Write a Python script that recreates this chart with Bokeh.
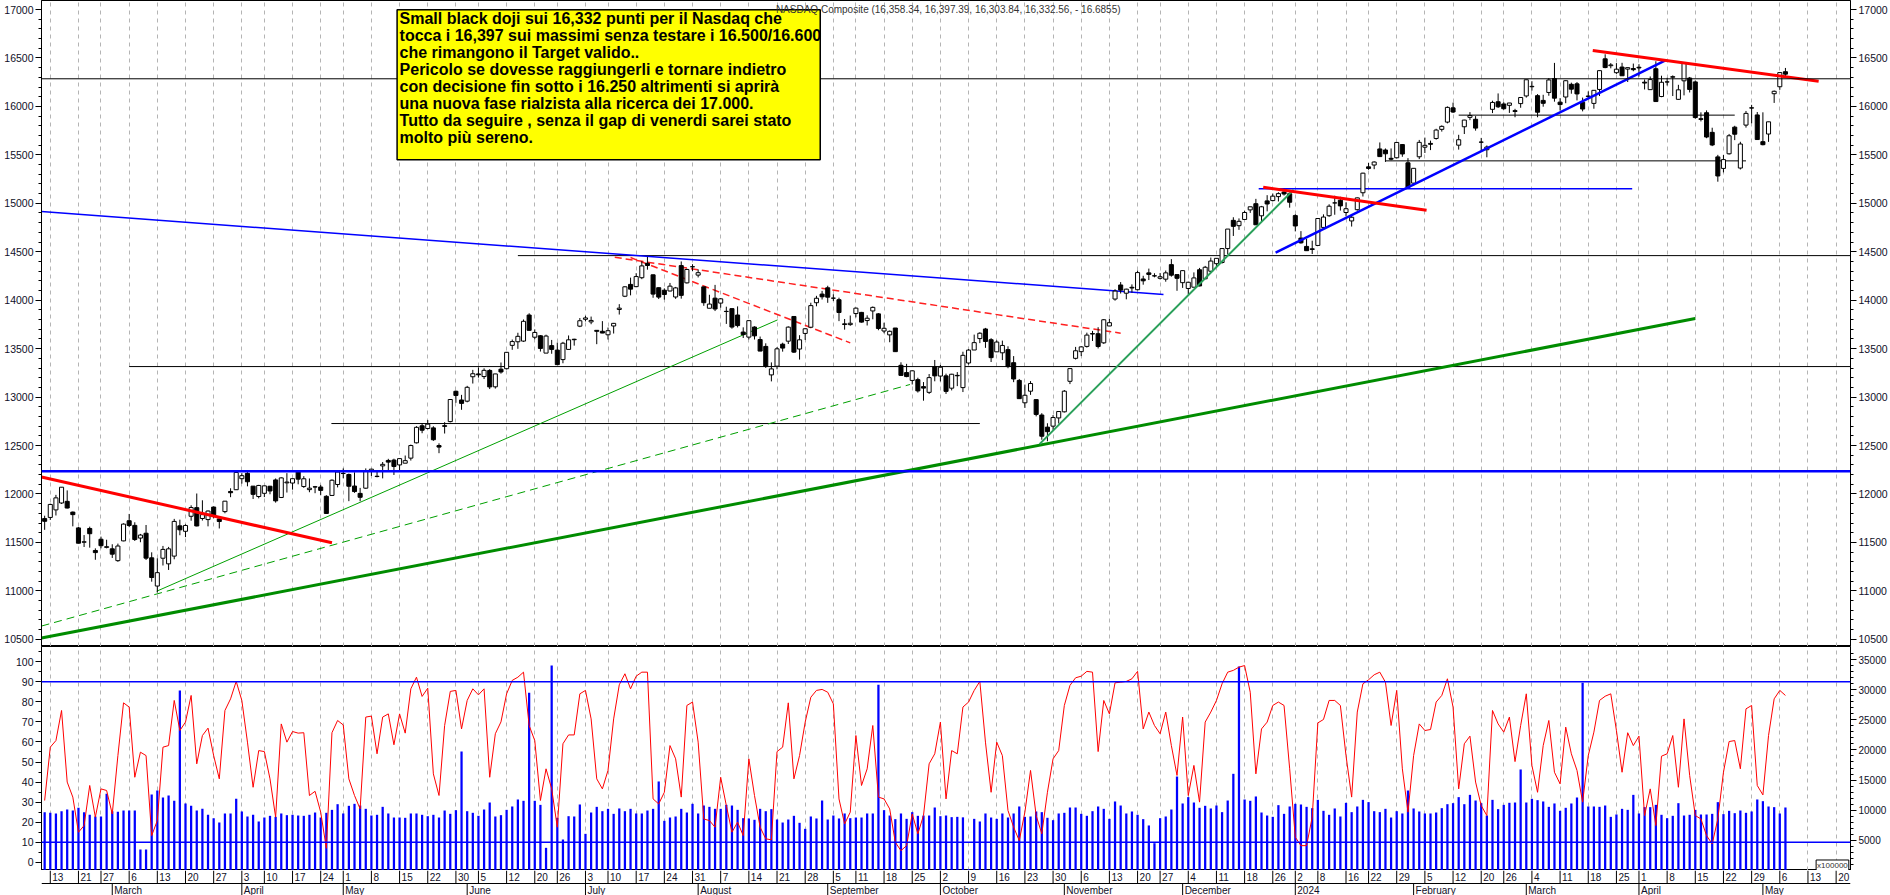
import pandas as pd
from bokeh.plotting import figure
from bokeh.layouts import column
from bokeh.models import (Range1d, LinearAxis, FixedTicker, Grid, Span, BoxAnnotation,
                          Label, ColumnDataSource)
from bokeh.embed import file_html
from bokeh.resources import INLINE
from bokeh.core.properties import value

# ------------------------------------------------------------------ data
holidays = ["2023-02-20", "2023-04-07", "2023-05-29", "2023-06-19", "2023-07-04",
            "2023-09-04", "2023-11-23", "2023-12-25", "2024-01-01", "2024-01-15",
            "2024-02-19", "2024-03-29"]
missing_days = ["2023-04-26"]          # day absent from the chart's data feed

opens = [
    11746, 11758, 11836, 11907, 11924, 11813, 11650, 11502, 11644, 11417, 11533, 11449,
    11434, 11312, 11516, 11724, 11676, 11545, 11595, 11341, 11050, 11337, 11279, 11359, 11671, 11615, 11770, 11859, 11747, 11736, 11865, 11743, 11818, 12026, 12044,
    12158, 12213, 12081, 11974, 12007, 12080, 12145, 11964, 12115, 12113, 12233, 12077, 12045, 12074, 12072, 11976, 11985, 12098,
    12211, 12201, 12082, 12006, 12060, 12240, 12183, 12290, 12346, 12350, 12300, 12318, 12370, 12528, 12704, 12676, 12682, 12500, 12705, 12747, 13060, 12970,
    12958, 13210, 13239, 13212, 13275, 13106, 13288, 13293, 13534, 13571, 13578, 13847, 13618, 13633, 13454, 13531, 13485, 13387, 13492, 13597, 13732,
    13803, 13776, 13689, 13679, 13643, 13734, 13904, 14041, 14163, 14140, 14232, 14381, 14262, 14129, 14103, 14095, 14033, 14357, 14179, 14344,
    14259, 14138, 13917, 14021, 13970, 13883, 13913, 13847, 13671, 13619, 13723, 13594, 13523, 13229, 13319, 13546, 13577, 13832, 13496, 13657, 13721, 13974, 14063,
    14128, 14021, 14005, 13756, 13748, 13862, 13874, 13790, 13889, 13859, 13682, 13642, 13713, 13328, 13253, 13172, 13180, 13108, 13049, 13313,
    13217, 13219, 13092, 13224, 13098, 13352, 13486, 13604, 13703, 13592, 13467, 13457, 13490, 13355, 13172, 12941, 13061, 12974, 12815, 12690, 12700, 12785,
    12848, 13163, 13400, 13469, 13523, 13655, 13654, 13560, 13734, 14012, 14157, 14072, 14133, 14108, 14219, 14282, 14252, 14226, 14217, 14367, 14264,
    14181, 14121, 14134, 14314, 14221, 14299, 14377, 14389, 14533, 14824, 14769, 14833, 14932, 14996, 14871, 15025, 15028, 15069, 15116, 15099,
    14873, 14641, 14555, 14530, 14565, 14751, 14872, 15004, 15032, 14905, 14818, 14934, 15109, 15376, 15395, 15561, 15550, 15464, 15470, 15606, 15418,
    15208, 15480, 15579, 15618, 15669, 15763, 15838, 15985, 15600, 15790, 15887, 15867, 15632, 15553, 15970, 16048, 16025, 16011, 15956, 16029,
    16108, 16203, 16111, 16062, 16144, 16287, 16044, 16097, 16228, 16233, 16044, 16107, 16031, 16175, 16491, 16420, 16348, 16406, 16385, 16391,
    16404, 16250, 16173, 16389, 16102, 16252, 16301, 16073, 16264, 16293, 16253, 15873, 15935, 15732, 15479, 15360, 15511, 15786, 15364, 15807, 15985, 15912,
    15636, 15715, 16131, 16203, 16358]
highs = [
    11776, 11900, 11991, 12070, 12037, 11819, 11660, 11576, 11663, 11439, 11560, 11528,
    11481, 11488, 11697, 11794, 11708, 11588, 11680, 11398, 11336, 11464, 11454, 11743, 11735, 11687, 11883, 12005, 11935, 11830, 11872, 11753, 11926, 12059, 12227,
    12215, 12226, 12082, 12094, 12085, 12084, 12160, 12172, 12215, 12160, 12243, 12184, 12160, 12083, 12094, 11988, 12151, 12229,
    12264, 12211, 12224, 12063, 12264, 12260, 12236, 12330, 12363, 12364, 12370, 12397, 12510, 12700, 12731, 12763, 12699, 12523, 12741, 12979, 13067, 13023,
    13116, 13281, 13307, 13297, 13288, 13240, 13357, 13466, 13594, 13664, 13801, 13865, 13699, 13640, 13644, 13590, 13562, 13570, 13636, 13602, 13816,
    13839, 13831, 13691, 13784, 13718, 13765, 13959, 14144, 14233, 14279, 14402, 14447, 14264, 14130, 14122, 14178, 14137, 14400, 14325, 14371,
    14318, 14139, 14056, 14158, 14022, 13933, 13914, 13936, 13720, 13793, 13731, 13625, 13555, 13358, 13516, 13561, 13730, 13834, 13639, 13710, 13974, 14045, 14096,
    14149, 14061, 14026, 13806, 13842, 13924, 13879, 13844, 13935, 13867, 13768, 13687, 13713, 13359, 13343, 13275, 13200, 13155, 13238, 13383,
    13332, 13242, 13240, 13258, 13468, 13496, 13645, 13669, 13714, 13608, 13586, 13583, 13524, 13423, 13187, 13129, 13165, 12975, 12834, 12730, 12814, 12852,
    13073, 13298, 13518, 13525, 13665, 13683, 13721, 13805, 13808, 14113, 14187, 14118, 14163, 14305, 14252, 14326, 14278, 14281, 14306, 14424, 14265,
    14309, 14191, 14287, 14333, 14354, 14440, 14435, 14537, 14734, 14856, 14844, 14923, 14965, 15046, 14973, 15084, 15101, 15114, 15150, 15111,
    14887, 14713, 14633, 14614, 14847, 14886, 14990, 15078, 15067, 15010, 14871, 15059, 15315, 15417, 15433, 15628, 15566, 15566, 15629, 15612, 15466,
    15362, 15654, 15678, 15647, 15769, 15804, 16000, 16039, 15707, 15862, 15941, 15900, 15675, 15597, 16059, 16134, 16043, 16036, 15975, 16093,
    16275, 16260, 16127, 16120, 16293, 16449, 16085, 16270, 16245, 16251, 16091, 16155, 16169, 16370, 16538, 16447, 16447, 16450, 16400, 16442,
    16436, 16278, 16309, 16466, 16317, 16295, 16320, 16223, 16453, 16304, 16268, 15939, 15959, 15780, 15500, 15498, 15716, 15800, 15635, 15953, 16016, 15942,
    15939, 15842, 16164, 16349, 16397]
lows = [
    11630, 11732, 11778, 11897, 11851, 11666, 11490, 11453, 11446, 11321, 11439, 11439,
    11340, 11300, 11512, 11658, 11515, 11502, 11319, 11095, 10982, 11262, 11216, 11326, 11574, 11555, 11724, 11666, 11726, 11666, 11749, 11644, 11801, 11967, 12041,
    12107, 12079, 11948, 11955, 11968, 11997, 11911, 11958, 12015, 12045, 12100, 12063, 12018, 12008, 11987, 11798, 11985, 12068,
    12162, 11926, 12012, 11925, 12053, 12186, 12172, 12161, 12242, 12196, 12246, 12318, 12345, 12522, 12627, 12667, 12548, 12421, 12624, 12739, 12941, 12869,
    12946, 13140, 13201, 13186, 13083, 13088, 13242, 13285, 13488, 13498, 13570, 13688, 13597, 13470, 13454, 13447, 13335, 13349, 13491, 13531, 13722,
    13781, 13752, 13546, 13660, 13594, 13656, 13852, 14032, 14050, 14134, 14217, 14315, 14025, 14012, 14006, 14091, 14014, 14016, 14172, 14299,
    14235, 13942, 13918, 13888, 13923, 13755, 13706, 13719, 13610, 13595, 13594, 13474, 13301, 13162, 13287, 13469, 13548, 13456, 13387, 13590, 13714, 13937, 14007,
    13973, 13992, 13784, 13696, 13736, 13823, 13769, 13739, 13803, 13690, 13659, 13566, 13467, 13221, 13205, 13130, 13047, 12963, 13033, 13163,
    13162, 13033, 13069, 13113, 13052, 13335, 13486, 13557, 13508, 13362, 13467, 13382, 13298, 13154, 12981, 12888, 13023, 12801, 12560, 12544, 12662, 12727,
    12841, 13134, 13388, 13423, 13511, 13579, 13502, 13549, 13734, 13995, 14069, 14009, 14078, 14101, 14160, 14208, 14236, 14213, 14191, 14243, 14097,
    14127, 14059, 14134, 14143, 14217, 14282, 14340, 14378, 14472, 14663, 14726, 14833, 14901, 14777, 14813, 14917, 15020, 15019, 15080, 14955,
    14710, 14584, 14510, 14477, 14565, 14740, 14860, 14882, 14925, 14866, 14760, 14924, 15070, 15346, 15352, 15482, 15427, 15444, 15463, 15480, 15163,
    15181, 15456, 15519, 15549, 15657, 15740, 15825, 15932, 15554, 15715, 15858, 15750, 15542, 15475, 15931, 15984, 15966, 15933, 15888, 15986,
    16091, 16163, 15888, 15997, 16110, 16049, 15957, 16033, 16131, 16062, 15949, 16085, 15976, 16107, 16394, 16393, 16335, 16315, 16252, 16363,
    16308, 16175, 16170, 16048, 16095, 16216, 16107, 16070, 16114, 16144, 15873, 15845, 15672, 15590, 15223, 15319, 15503, 15652, 15349, 15781, 15826, 15657,
    15598, 15634, 16036, 16171, 16304]
closes = [
    11718, 11892, 11960, 12070, 11855, 11787, 11492, 11507, 11590, 11395, 11466, 11456,
    11379, 11463, 11689, 11675, 11530, 11576, 11338, 11138, 11188, 11428, 11434, 11717, 11630, 11675, 11860, 11670, 11787, 11824, 11768, 11716, 11926, 12013, 12222,
    12189, 12126, 11996, 12088, 12084, 12031, 11929, 12166, 12123, 12158, 12153, 12157, 12060, 12072, 12037, 11799, 12142, 12227,
    12213, 12080, 12025, 11966, 12235, 12256, 12180, 12306, 12329, 12284, 12365, 12344, 12500, 12688, 12658, 12721, 12560, 12484, 12698, 12975, 13017, 12935,
    13101, 13241, 13230, 13276, 13105, 13239, 13259, 13462, 13573, 13627, 13782, 13689, 13667, 13502, 13630, 13492, 13335, 13556, 13591, 13592, 13788,
    13817, 13791, 13679, 13661, 13685, 13761, 13918, 14138, 14114, 14244, 14354, 14358, 14063, 14032, 14059, 14145, 14127, 14050, 14317, 14346,
    14284, 13974, 13960, 13909, 14014, 13885, 13723, 13738, 13645, 13789, 13632, 13475, 13317, 13291, 13498, 13506, 13722, 13464, 13591, 13705, 13944, 14020, 14035,
    14031, 14021, 13873, 13749, 13762, 13918, 13774, 13814, 13926, 13708, 13710, 13679, 13469, 13224, 13212, 13271, 13064, 13093, 13201, 13219,
    13308, 13059, 13236, 13220, 13431, 13485, 13562, 13659, 13574, 13407, 13568, 13533, 13315, 13187, 12984, 13019, 13140, 12821, 12596, 12643, 12789, 12851,
    13061, 13294, 13478, 13518, 13640, 13651, 13522, 13798, 13768, 14094, 14104, 14114, 14126, 14285, 14200, 14266, 14250, 14242, 14282, 14258, 14226,
    14305, 14185, 14230, 14147, 14340, 14404, 14432, 14533, 14734, 14762, 14814, 14905, 14964, 14778, 14964, 14993, 15074, 15100, 15096, 15011,
    14766, 14592, 14511, 14524, 14843, 14858, 14970, 15004, 14973, 14944, 14856, 15056, 15311, 15360, 15426, 15482, 15511, 15455, 15628, 15509, 15164,
    15361, 15629, 15598, 15609, 15756, 15794, 15990, 15942, 15656, 15859, 15906, 15776, 15631, 15581, 16041, 15996, 15976, 16035, 15948, 16092,
    16275, 16207, 15940, 16032, 16273, 16085, 16019, 16265, 16178, 16129, 15973, 16103, 16166, 16369, 16401, 16428, 16384, 16316, 16400, 16379,
    16397, 16241, 16277, 16050, 16249, 16253, 16307, 16171, 16443, 16175, 15885, 15866, 15684, 15602, 15282, 15451, 15697, 15713, 15612, 15928, 15983, 15658,
    15605, 15841, 16156, 16349, 16333]

volumes = [
    9680, 9570, 9460, 9840, 10120, 9950, 10400, 9680, 9240, 8960,
    8960, 12720, 9840, 9730, 9950, 9950, 9950, 3480, 3480, 12610,
    13270, 12110, 12440, 11560, 29860, 11120, 10730, 9950, 10230, 9240,
    8680, 7960, 9460, 9460, 11890, 9790, 8960, 9240, 8130, 8790,
    9070, 8900, 9460, 9180, 9240, 9120, 9070, 9240, 9620, 8790,
    9570, 10060, 11000, 9460, 10730, 11060, 10780, 10230, 9120, 9240,
    10560, 9460, 8790, 8790, 8740, 9460, 9460, 9240, 9010, 9240,
    8790, 9950, 9400, 10010, 19740, 9840, 9570, 9070, 10120, 11280,
    8960, 9180, 10060, 10620, 11780, 11560, 29470, 11560, 10890, 3760,
    34010, 8740, 5140, 9010, 8960, 10950, 6080, 9620, 10560, 9840,
    10230, 9400, 10290, 9840, 10230, 9460, 9460, 9950, 10230, 14770,
    8240, 8790, 8960, 10230, 9620, 11060, 9460, 10780, 10560, 10230,
    10230, 10890, 10780, 10060, 8680, 8630, 8410, 10230, 9840, 10180,
    8460, 7960, 8460, 9070, 7910, 6910, 8960, 8630, 11610, 8460,
    9120, 8630, 9460, 8680, 8790, 8790, 9460, 9460, 30800, 10010,
    9120, 8520, 9460, 8570, 9680, 9070, 9120, 9120, 10450, 9010,
    9120, 8850, 8900, 8820, 220, 8570, 8130, 9460, 8790, 8570,
    9460, 8790, 9460, 10620, 8900, 8960, 9790, 9680, 8740, 8350,
    9460, 9570, 10450, 10450, 9400, 9070, 9840, 10620, 10230, 8570,
    11450, 10780, 9460, 9790, 9240, 8520, 7470, 4530, 8680, 8960,
    10120, 15590, 11120, 12170, 11280, 10400, 10730, 10290, 10780, 9680,
    11610, 16040, 33840, 11780, 11560, 12280, 9620, 9120, 8900, 10840,
    9400, 10620, 11060, 10950, 10560, 10340, 11720, 9900, 9240, 10290,
    8960, 11230, 9680, 10620, 11720, 11340, 9840, 9680, 10230, 8790,
    9840, 9460, 13270, 10290, 9790, 9460, 9460, 9620, 10340, 11000,
    11170, 12170, 11000, 12550, 11610, 11170, 9120, 11720, 10180, 10890,
    11230, 11280, 16760, 11280, 11890, 11670, 11450, 10560, 11120, 9900,
    10400, 11120, 12110, 31130, 10620, 10620, 10560, 10780, 8900, 9290,
    10230, 10060, 12550, 9460, 10510, 10510, 10890, 9240, 8680, 9070,
    11170, 9120, 9240, 10060, 9290, 9290, 9400, 11340, 9350, 9900,
    9510, 9950, 9570, 9790, 11780, 11500, 10620, 10510, 9460, 10450]

stoch = [
    30.8, 57.4, 60.7, 75.7, 40.0, 32.5, 15.0, 18.3, 38.3, 22.5,
    36.6, 35.8, 24.1, 53.2, 79.5, 77.4, 42.4, 54.9, 53.2, 13.3,
    20.8, 57.4, 58.2, 80.7, 65.7, 69.9, 83.2, 49.1, 63.2, 66.9,
    53.2, 41.6, 75.7, 81.5, 90.2, 80.7, 59.9, 37.4, 55.7, 55.2,
    41.6, 22.5, 69.0, 59.9, 65.2, 64.4, 64.6, 33.3, 35.4, 25.0,
    7.0, 64.6, 70.7, 68.5, 41.6, 33.3, 26.6, 72.4, 72.9, 54.1,
    72.4, 74.0, 58.6, 74.0, 64.4, 86.5, 92.3, 82.7, 86.8, 44.1,
    33.3, 68.2, 85.2, 85.7, 66.5, 80.7, 86.5, 83.5, 86.5, 42.4,
    64.1, 70.0, 84.0, 90.7, 92.3, 94.8, 68.2, 60.7, 30.8, 46.6,
    36.6, 17.5, 59.1, 63.5, 63.5, 84.0, 85.7, 71.5, 41.6, 36.6,
    45.8, 71.5, 88.5, 94.0, 86.5, 92.8, 94.8, 94.8, 31.6, 29.1,
    34.9, 58.2, 51.6, 32.5, 78.2, 79.9, 59.9, 21.6, 20.8, 17.5,
    42.4, 28.3, 15.0, 20.0, 13.3, 51.6, 33.3, 17.5, 11.7, 11.2,
    55.2, 57.4, 79.5, 41.6, 53.2, 69.9, 82.3, 85.7, 86.2, 84.8,
    79.0, 31.6, 19.1, 25.0, 63.2, 38.3, 46.6, 68.2, 32.5, 31.6,
    26.6, 10.0, 5.8, 8.3, 24.1, 14.2, 23.3, 49.1, 54.1, 69.9,
    31.6, 55.7, 54.1, 77.4, 79.9, 85.7, 90.2, 59.9, 34.9, 59.9,
    53.2, 25.8, 17.5, 10.8, 25.0, 45.8, 23.3, 14.2, 34.9, 51.6,
    55.7, 78.2, 88.2, 92.0, 92.8, 95.2, 94.8, 55.2, 80.7, 74.0,
    89.5, 89.8, 90.2, 91.5, 95.2, 66.5, 74.9, 68.2, 64.1, 74.9,
    58.2, 43.3, 72.4, 33.3, 48.3, 30.0, 69.9, 74.9, 80.7, 89.0,
    94.8, 95.7, 97.3, 98.1, 84.8, 44.1, 66.5, 69.9, 78.2, 79.9,
    78.2, 46.6, 12.5, 8.3, 8.3, 22.5, 69.5, 71.2, 80.7, 80.7,
    78.2, 53.2, 32.5, 74.9, 89.0, 91.0, 93.5, 94.8, 89.8, 68.2,
    85.7, 46.6, 25.0, 53.2, 69.0, 65.7, 66.2, 79.9, 83.2, 91.5,
    77.4, 36.6, 59.1, 62.9, 40.0, 28.3, 23.3, 75.7, 69.0, 64.9,
    72.4, 50.2, 68.2, 84.0, 48.3, 34.9, 58.2, 70.7, 44.9, 39.1,
    67.4, 54.1, 45.8, 30.0, 53.2, 64.9, 80.7, 82.8, 84.0, 65.7,
    44.9, 64.6, 58.2, 62.9, 23.3, 36.6, 18.3, 52.9, 54.1, 63.2,
    37.4, 71.5, 43.3, 23.3, 21.6, 13.3, 9.2, 21.6, 44.9, 60.2,
    60.7, 46.6, 76.5, 78.2, 38.3, 33.6, 63.2, 81.5, 85.7, 83.2]

month_names = {1: "2024", 2: "February", 3: "March", 4: "April", 5: "May", 6: "June",
               7: "July", 8: "August", 9: "September", 10: "October", 11: "November",
               12: "December"}

# horizontal levels and trend lines (slot, price)
hlines_full = [16285]
hline_blue = 12235
black_segments = [(83, 14460, 319.6, 14460), (14, 13315, 319.6, 13315),
                  (49.9, 12727, 165, 12727), (250, 15910, 299, 15910),
                  (237, 15438, 301, 15438)]
blue_thin = [(214.5, 15150, 280.8, 15150), (-1.56, 14915, 197.6, 14059)]
blue_thick = [(217.5, 14492, 286.7, 16474)]
red_thick = [(-1.56, 12176, 50, 11496), (215.3, 15165, 244.3, 14929),
             (273.8, 16577, 313.9, 16260)]
red_dashed = [(100.2, 14443, 190, 13660), (103, 14440, 142, 13560)]
green_thin = [(18.9, 10997, 129.1, 13797)]
green_dashed = [(-1.56, 10637, 152.6, 13130)]
green_thick = [(-1.56, 10513, 292, 13811)]
green_teal = [(175.6, 12515, 220.7, 15140)]

note_lines = [
    "Small black doji sui 16,332 punti per il Nasdaq che",
    "tocca i 16,397 sui massimi senza testare i 16.500/16.600",
    "che rimangono il Target valido..",
    "Pericolo se dovesse raggiungerli e tornare indietro",
    "con decisione fin sotto i 16.250 altrimenti si aprirà",
    "una nuova fase rialzista alla ricerca dei 17.000.",
    "Tutto da seguire , senza il gap di venerdi sarei stato",
    "molto più sereno.",
]
title_text = "NASDAQ Composite (16,358.34, 16,397.39, 16,303.84, 16,332.56, - 16.6855)"
volume_unit = "x100000"

# ------------------------------------------------------------------ derived
skip = set(holidays + missing_days)
days = [d for d in pd.bdate_range("2023-02-10", "2024-05-24") if d.strftime("%Y-%m-%d") not in skip]
n = len(closes)
slots = list(range(-1, n - 1))

week_slots, week_labels, month_slots, month_labels = [], [], [], []
for i in range(1, len(days)):
    if days[i].isocalendar()[1] != days[i - 1].isocalendar()[1]:
        week_slots.append(i - 1)
        week_labels.append(str(days[i].day))
    if days[i].month != days[i - 1].month:
        month_slots.append(i - 1)
        month_labels.append(month_names[days[i].month])

src = ColumnDataSource(dict(
    x=slots, o=opens, h=highs, l=lows, c=closes,
    top=[max(a, b) for a, b in zip(opens, closes)],
    bot=[min(a, b) for a, b in zip(opens, closes)],
    fill=["white" if c >= o else "black" for o, c in zip(opens, closes)],
    vol=volumes, osc=stoch))

X0, X1 = -1.56, 319.55
W = 1890
LB, RB = 41, 40
FONT = "Liberation Sans"


def style_axis(ax, ticks, minor, size="10.5px"):
    ax.ticker = FixedTicker(ticks=ticks, minor_ticks=minor)
    ax.major_label_overrides = {t: str(t) for t in ticks}
    ax.axis_line_color = "black"
    ax.major_tick_line_color = "black"
    ax.minor_tick_line_color = "black"
    ax.major_tick_out = 6
    ax.major_tick_in = 0
    ax.minor_tick_out = 3
    ax.minor_tick_in = 0
    ax.major_label_text_font = FONT
    ax.major_label_text_font_size = size
    ax.major_label_text_color = "#101028"
    ax.major_label_standoff = 2


def add_grid(fig):
    fig.add_layout(Grid(dimension=0, ticker=FixedTicker(ticks=week_slots),
                        grid_line_color="#b4b4b4", grid_line_dash="4 4", grid_line_width=1))


# ------------------------------------------------------------------ main panel
p = figure(width=W, height=646, x_range=Range1d(X0, X1), y_range=Range1d(10426, 17093),
           output_backend="svg", toolbar_location=None, x_axis_location=None,
           y_axis_location="left", min_border_left=LB, min_border_right=RB,
           min_border_top=0, min_border_bottom=0, outline_line_color="black",
           background_fill_color="white", border_fill_color="white")
p.grid.visible = False
add_grid(p)
price_ticks = list(range(10500, 17001, 500))
price_minor = list(range(10500, 17100, 100))
style_axis(p.yaxis[0], price_ticks, price_minor)
ra = LinearAxis()
style_axis(ra, price_ticks, price_minor)
p.add_layout(ra, "right")

for lvl in hlines_full:
    p.add_layout(Span(location=lvl, dimension="width", line_color="black", line_width=1))
p.add_layout(Span(location=hline_blue, dimension="width", line_color="#0000ff", line_width=2.5))


def draw_segments(segs, **kw):
    p.segment(x0=[s[0] for s in segs], y0=[s[1] for s in segs],
              x1=[s[2] for s in segs], y1=[s[3] for s in segs], **kw)


draw_segments(black_segments, line_color="black", line_width=1)
draw_segments(green_dashed, line_color="#00a000", line_width=1, line_dash="8 5")
draw_segments(green_thin, line_color="#00a000", line_width=1)
draw_segments(green_thick, line_color="#008c00", line_width=3)
draw_segments(blue_thin, line_color="#0000ff", line_width=1.5)
draw_segments(red_dashed, line_color="#ff2020", line_width=1.5, line_dash="7 4")

p.segment(x0="x", y0="l", x1="x", y1="h", line_color="black", line_width=1, source=src)
p.vbar(x="x", width=0.72, top="top", bottom="bot", fill_color="fill",
       line_color="black", line_width=1, source=src)

draw_segments(green_teal, line_color="#2aa05a", line_width=2)
draw_segments(blue_thick, line_color="#0000ff", line_width=2.5)
draw_segments(red_thick, line_color="#ff0000", line_width=3)

p.add_layout(BoxAnnotation(left=61.56, right=136.67, top=16997, bottom=15449,
                           fill_color="#ffff00", fill_alpha=1.0,
                           line_color="black", line_width=1.5, line_alpha=1.0))
p.add_layout(Label(x=62.0, y=16992, text="\n".join(note_lines), text_align="left",
                   text_baseline="top", text_font="Liberation Sans Narrow, Liberation Sans",
                   text_font_style="bold", text_font_size="16px", text_line_height=1.0,
                   text_color="black"))
p.add_layout(Label(x=128.8, y=16997, text=title_text, text_align="left",
                   text_baseline="middle", text_font=FONT, text_font_size="10px",
                   text_color="#333333"))

# ------------------------------------------------------------------ lower panel
q = figure(width=W, height=224, x_range=p.x_range, y_range=Range1d(-4.1, 107.6),
           output_backend="svg", toolbar_location=None, x_axis_location=None,
           y_axis_location="left", min_border_left=LB, min_border_right=RB,
           min_border_top=0, min_border_bottom=0, outline_line_color="black",
           background_fill_color="white", border_fill_color="white")
q.extra_y_ranges = {"vol": Range1d(0, 37160)}
q.grid.visible = False
add_grid(q)
style_axis(q.yaxis[0], list(range(0, 101, 10)), list(range(0, 106, 5)))
va = LinearAxis(y_range_name="vol")
style_axis(va, list(range(5000, 35001, 5000)), list(range(1000, 37000, 1000)), size="10px")
q.add_layout(va, "right")

q.vbar(x="x", width=0.4, top="vol", bottom=0, y_range_name="vol",
       fill_color="#0000ff", line_color=None, source=src)
q.line(x="x", y="osc", line_color="#ff0000", line_width=1, source=src)
q.add_layout(Span(location=90, dimension="width", line_color="#0000ff", line_width=1.5))
q.add_layout(Span(location=10, dimension="width", line_color="#0000ff", line_width=1.5))
q.add_layout(Label(x=X1 - 0.3, y=-1.6, text=volume_unit, text_align="right",
                   text_baseline="middle", text_font=FONT, text_font_size="8px",
                   text_color="#333333", border_line_color="black",
                   background_fill_color="white", padding=1))

# ------------------------------------------------------------------ date strip
s = figure(width=W, height=25, x_range=p.x_range, y_range=Range1d(0, 25),
           output_backend="svg", toolbar_location=None, x_axis_location=None,
           y_axis_location=None, min_border_left=LB, min_border_right=RB,
           min_border_top=0, min_border_bottom=0, outline_line_color=None,
           background_fill_color="white", border_fill_color="white")
s.grid.visible = False
s.segment(x0=week_slots, y0=12, x1=week_slots, y1=25, line_color="black", line_width=1)
s.text(x=week_slots, y=18.5, text=week_labels, x_offset=2, text_align="left",
       text_baseline="middle", text_font=value(FONT), text_font_size="10px",
       text_color="#101028")
s.segment(x0=month_slots, y0=0, x1=month_slots, y1=12, line_color="black", line_width=1)
s.text(x=month_slots, y=5.5, text=month_labels, x_offset=2, text_align="left",
       text_baseline="middle", text_font=value(FONT), text_font_size="10px",
       text_color="#101028")
s.add_layout(Span(location=12, dimension="width", line_color="black", line_width=1))

layout = column(p, q, s, spacing=0)
open("out.html", "w").write(file_html(layout, INLINE))
